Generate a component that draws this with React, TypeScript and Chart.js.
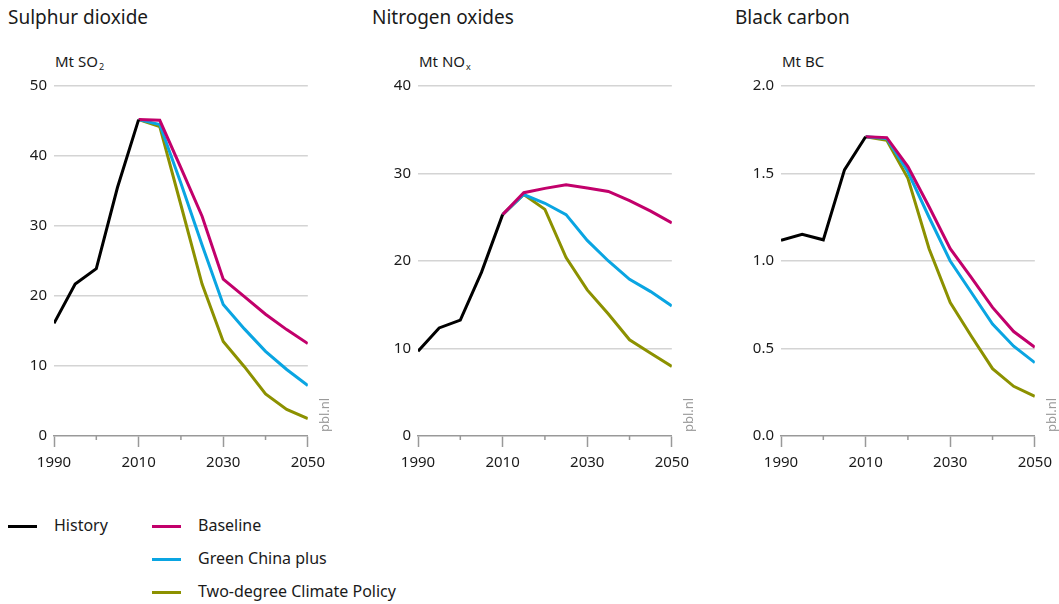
import React, { useEffect, useRef } from "react";
import { Chart, registerables } from "chart.js";

Chart.register(...registerables);

const FONT = "'Noto Sans', 'Open Sans', sans-serif";

// Years
const historyYears = [1990, 1995, 2000, 2005, 2010];
const scenarioYears = [2010, 2015, 2020, 2025, 2030, 2035, 2040, 2045, 2050];
const xTickYears = [1990, 2000, 2010, 2020, 2030, 2040, 2050];

// Sulphur dioxide (Mt SO2)
const so2History = [16.1, 21.7, 23.9, 35.5, 45.2];
const so2Baseline = [45.2, 45.1, 38.3, 31.4, 22.4, 19.9, 17.4, 15.2, 13.2];
const so2Green = [45.2, 44.5, 36.1, 27.3, 18.8, 15.3, 12.1, 9.5, 7.2];
const so2TwoDegree = [45.2, 44.2, 33.0, 21.7, 13.5, 9.9, 6.0, 3.8, 2.5];

// Nitrogen oxides (Mt NOx)
const noxHistory = [9.7, 12.35, 13.25, 18.7, 25.3];
const noxBaseline = [25.3, 27.8, 28.3, 28.7, 28.35, 27.95, 26.9, 25.7, 24.35];
const noxGreen = [25.3, 27.6, 26.6, 25.3, 22.35, 20.0, 17.9, 16.5, 14.85];
const noxTwoDegree = [25.3, 27.6, 25.9, 20.4, 16.7, 13.95, 11.0, 9.45, 7.95];

// Black carbon (Mt BC)
const bcHistory = [1.118, 1.152, 1.121, 1.521, 1.71];
const bcBaseline = [1.71, 1.705, 1.54, 1.31, 1.07, 0.905, 0.735, 0.597, 0.507];
const bcGreen = [1.71, 1.7, 1.51, 1.25, 1.0, 0.82, 0.64, 0.513, 0.419];
const bcTwoDegree = [1.71, 1.69, 1.473, 1.07, 0.763, 0.57, 0.385, 0.284, 0.227];

const seriesNames = ["History", "Baseline", "Green China plus", "Two-degree Climate Policy"];
const seriesColors = ["#000000", "#c2006b", "#0aa5e2", "#8c9100"];

type Panel = {
  title: string;
  unit: string;
  unitSub: string;
  max: number;
  step: number;
  decimals: number;
  history: number[];
  baseline: number[];
  green: number[];
  twoDegree: number[];
  canvasLeft: number;
  titleLeft: number;
};

const panels: Panel[] = [
  { title: "Sulphur dioxide", unit: "Mt SO", unitSub: "2", max: 50, step: 10, decimals: 0,
    history: so2History, baseline: so2Baseline, green: so2Green, twoDegree: so2TwoDegree,
    canvasLeft: 0, titleLeft: 8 },
  { title: "Nitrogen oxides", unit: "Mt NO", unitSub: "x", max: 40, step: 10, decimals: 0,
    history: noxHistory, baseline: noxBaseline, green: noxGreen, twoDegree: noxTwoDegree,
    canvasLeft: 364, titleLeft: 372 },
  { title: "Black carbon", unit: "Mt BC", unitSub: "", max: 2, step: 0.5, decimals: 1,
    history: bcHistory, baseline: bcBaseline, green: bcGreen, twoDegree: bcTwoDegree,
    canvasLeft: 727, titleLeft: 735 },
];

const CANVAS_TOP = 70;
const CANVAS_H = 410;
const Y_AXIS_W = 54;
const PLOT_W = 256;
const PAD_RIGHT = 22;
const CANVAS_W = Y_AXIS_W + PLOT_W + PAD_RIGHT;

const toPoints = (xs: number[], ys: number[]) => xs.map((x, i) => ({ x, y: ys[i] }));

const minorTicks = {
  id: "minorTicks",
  afterDraw(chart: any) {
    const xs = chart.scales.x;
    const ctx = chart.ctx;
    ctx.save();
    ctx.strokeStyle = "#999999";
    ctx.lineWidth = 1.5;
    xTickYears.forEach((yr) => {
      if ((yr - 1990) % 20 !== 0) {
        const px = xs.getPixelForValue(yr);
        ctx.beginPath();
        ctx.moveTo(px, xs.top);
        ctx.lineTo(px, xs.top + 4);
        ctx.stroke();
      }
    });
    ctx.restore();
  },
};

function PanelChart({ p }: { p: Panel }) {
  const ref = useRef<HTMLCanvasElement | null>(null);
  useEffect(() => {
    if (!ref.current) return;
    const line = (label: string, color: string, xs: number[], ys: number[]) => ({
      label,
      data: toPoints(xs, ys),
      borderColor: color,
      backgroundColor: color,
      borderWidth: 3,
      pointRadius: 0,
      tension: 0,
      fill: false,
    });
    const chart = new Chart(ref.current, {
      type: "line",
      data: {
        datasets: [
          line(seriesNames[0], seriesColors[0], historyYears, p.history),
          line(seriesNames[1], seriesColors[1], scenarioYears, p.baseline),
          line(seriesNames[2], seriesColors[2], scenarioYears, p.green),
          line(seriesNames[3], seriesColors[3], scenarioYears, p.twoDegree),
        ],
      },
      options: {
        animation: false,
        responsive: false,
        maintainAspectRatio: false,
        layout: { padding: { top: 14, right: PAD_RIGHT, left: 0, bottom: 0 } },
        plugins: { legend: { display: false }, tooltip: { enabled: false } },
        scales: {
          x: {
            type: "linear",
            min: 1990,
            max: 2050,
            afterBuildTicks: (scale: any) => {
              scale.ticks = xTickYears.map((v) => ({ value: v }));
            },
            afterFit: (scale: any) => {
              scale.height = 44;
            },
            ticks: {
              autoSkip: false,
              maxRotation: 0,
              padding: 7,
              color: "#1a1a1a",
              font: { family: FONT, size: 15 },
              callback: (v: any) => ((Number(v) - 1990) % 20 === 0 ? String(v) : ""),
            },
            grid: {
              display: true,
              drawOnChartArea: false,
              drawTicks: true,
              tickLength: 11,
              tickWidth: 1.5,
              tickColor: (ctx: any) =>
                ctx.tick && (ctx.tick.value - 1990) % 20 === 0 ? "#999999" : "rgba(0,0,0,0)",
            },
            border: { display: true, color: "#999999", width: 1.5 },
          },
          y: {
            type: "linear",
            min: 0,
            max: p.max,
            afterFit: (scale: any) => {
              scale.width = Y_AXIS_W;
            },
            ticks: {
              stepSize: p.step,
              padding: 7,
              color: "#1a1a1a",
              font: { family: FONT, size: 15 },
              callback: (v: any) => Number(v).toFixed(p.decimals),
            },
            grid: {
              drawTicks: false,
              lineWidth: 1.5,
              color: (ctx: any) =>
                ctx.tick && ctx.tick.value === 0 ? "rgba(0,0,0,0)" : "#d4d4d4",
            },
            border: { display: false },
          },
        },
      },
      plugins: [minorTicks],
    } as any);
    return () => chart.destroy();
  }, [p]);

  const plotRight = p.canvasLeft + Y_AXIS_W + PLOT_W;
  return (
    <>
      <div
        style={{
          position: "absolute",
          left: p.titleLeft,
          top: 5,
          fontFamily: FONT,
          fontSize: 19,
          lineHeight: "24px",
          color: "#1a1a1a",
          whiteSpace: "nowrap",
        }}
      >
        {p.title}
      </div>
      <div
        style={{
          position: "absolute",
          left: p.canvasLeft + Y_AXIS_W + 1,
          top: 51,
          fontFamily: FONT,
          fontSize: 15,
          lineHeight: "20px",
          color: "#1a1a1a",
          whiteSpace: "nowrap",
        }}
      >
        {p.unit}
        {p.unitSub ? (
          <span style={{ fontSize: 9, position: "relative", top: 3, marginLeft: 1 }}>{p.unitSub}</span>
        ) : null}
      </div>
      <canvas
        ref={ref}
        width={CANVAS_W}
        height={CANVAS_H}
        style={{
          position: "absolute",
          left: p.canvasLeft,
          top: CANVAS_TOP,
          width: CANVAS_W,
          height: CANVAS_H,
        }}
      />
      <div
        style={{
          position: "absolute",
          left: plotRight + 8,
          top: 432,
          transform: "rotate(-90deg)",
          transformOrigin: "0 0",
          fontFamily: FONT,
          fontSize: 13,
          lineHeight: "13px",
          color: "#9a9a9a",
          whiteSpace: "nowrap",
        }}
      >
        pbl.nl
      </div>
    </>
  );
}

const legendItems = [
  { name: seriesNames[0], color: seriesColors[0], left: 8, top: 526 },
  { name: seriesNames[1], color: seriesColors[1], left: 152, top: 526 },
  { name: seriesNames[2], color: seriesColors[2], left: 152, top: 559 },
  { name: seriesNames[3], color: seriesColors[3], left: 152, top: 592 },
];

export default function App() {
  useEffect(() => {
    document.body.style.overflow = "hidden";
  }, []);
  return (
    <div style={{ position: "absolute", left: 0, top: 0, width: 1059, height: 604, background: "#fff" }}>
      {panels.map((p) => (
        <PanelChart key={p.title} p={p} />
      ))}
      {legendItems.map((it) => (
        <React.Fragment key={it.name}>
          <div
            style={{
              position: "absolute",
              left: it.left,
              top: it.top - 1.5,
              width: 29,
              height: 3,
              background: it.color,
            }}
          />
          <div
            style={{
              position: "absolute",
              left: it.left + 46,
              top: it.top - 12,
              fontFamily: FONT,
              fontSize: 16,
              lineHeight: "22px",
              color: "#1a1a1a",
              whiteSpace: "nowrap",
            }}
          >
            {it.name}
          </div>
        </React.Fragment>
      ))}
    </div>
  );
}
